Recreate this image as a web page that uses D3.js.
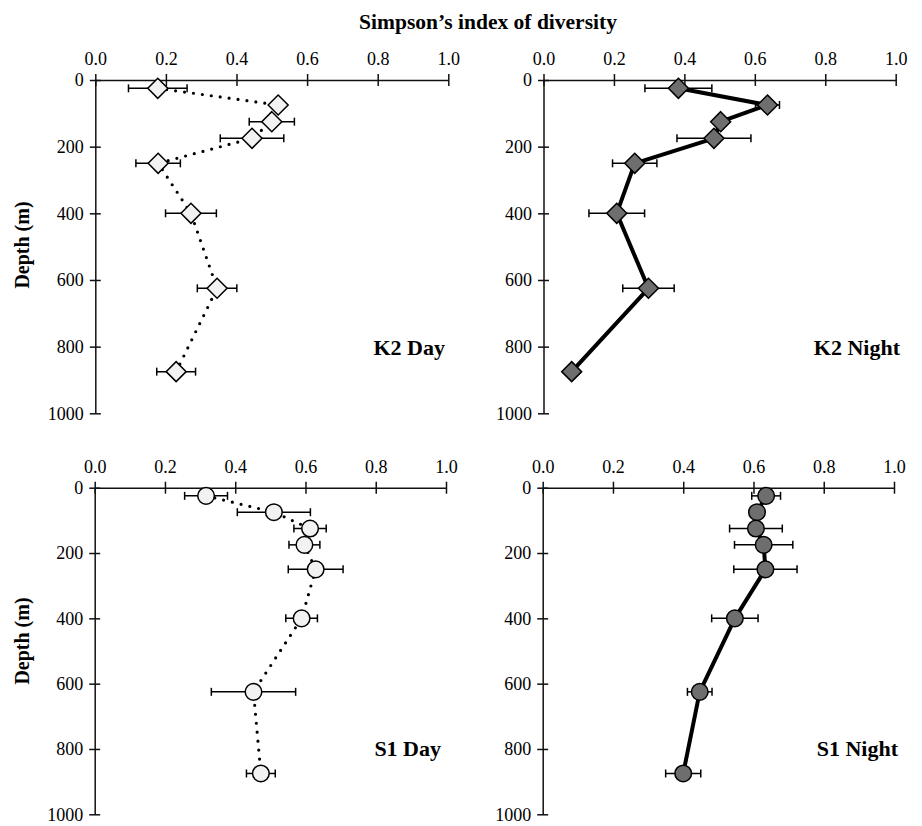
<!DOCTYPE html>
<html>
<head>
<meta charset="utf-8">
<script src="https://cdn.jsdelivr.net/npm/d3@7"></script>
<style>
  body { margin: 0; background: #fff; }
  svg { display: block; }
  svg text { font-family: "Liberation Serif", "Times New Roman", serif; }
</style>
</head>
<body>
<svg></svg>
<script>
// размеры окна
const width = 922;
const height = 826;
let svg = d3.select("svg")
  .attr("width", width)
  .attr("height", height);

// данные: глубины и индексы Симпсона (среднее и погрешность)
const depths = [25, 75, 125, 175, 250, 400, 625, 875];
const xTicks = [0, 0.2, 0.4, 0.6, 0.8, 1.0];
const yTicks = [0, 200, 400, 600, 800, 1000];

const k2DayMean = [0.177, 0.518, 0.50, 0.444, 0.178, 0.271, 0.345, 0.229];
const k2DayErr = [0.083, null, 0.064, 0.09, 0.063, 0.072, 0.056, 0.055];

const k2NightMean = [0.383, 0.636, 0.503, 0.484, 0.259, 0.208, 0.298, 0.08];
const k2NightErr = [0.095, 0.034, null, 0.105, 0.063, 0.079, 0.073, null];

const s1DayMean = [0.317, 0.51, 0.613, 0.597, 0.629, 0.589, 0.452, 0.473];
const s1DayErr = [0.061, 0.104, 0.046, 0.044, 0.078, 0.045, 0.12, 0.041];

const s1NightMean = [0.636, 0.61, 0.607, 0.629, 0.634, 0.547, 0.447, 0.40];
const s1NightErr = [0.041, null, 0.075, 0.083, 0.09, 0.066, 0.035, 0.05];

// панели: положение и стиль
const panels = [
  { name: "K2 Day", mean: k2DayMean, err: k2DayErr, x0: 95.3, x1: 448.3, y0: 80, y1: 413.3,
    shape: "diamond", fill: "#f2f2f2", dotted: true, lx: 445, ly: 355 },
  { name: "K2 Night", mean: k2NightMean, err: k2NightErr, x0: 543.5, x1: 895.7, y0: 80, y1: 413.3,
    shape: "diamond", fill: "#6e6e6e", dotted: false, lx: 900, ly: 355 },
  { name: "S1 Day", mean: s1DayMean, err: s1DayErr, x0: 94.7, x1: 446, y0: 487.7, y1: 814.3,
    shape: "circle", fill: "#f2f2f2", dotted: true, lx: 441, ly: 756 },
  { name: "S1 Night", mean: s1NightMean, err: s1NightErr, x0: 542.7, x1: 894, y0: 487.7, y1: 814.3,
    shape: "circle", fill: "#6e6e6e", dotted: false, lx: 898, ly: 756 }
];

function drawPanel(p) {
  let x = d3.scaleLinear().domain([0, 1]).range([p.x0, p.x1]);
  let y = d3.scaleLinear().domain([0, 1000]).range([p.y0, p.y1]);
  let g = svg.append("g");

  // ось X сверху
  let gx = g.append("g")
    .attr("transform", `translate(0,${p.y0})`)
    .call(d3.axisTop(x).tickValues(xTicks).tickFormat(d3.format(".1f"))
      .tickSize(6).tickSizeOuter(0).tickPadding(9));
  gx.selectAll(".tick line").attr("y1", 6);

  // ось Y слева
  let gy = g.append("g")
    .attr("transform", `translate(${p.x0},0)`)
    .call(d3.axisLeft(y).tickValues(yTicks).tickFormat(d3.format("d"))
      .tickSize(5.5).tickSizeOuter(0).tickPadding(6));
  gy.selectAll(".tick line").attr("x1", 5.5);

  [gx, gy].forEach(a => a.attr("font-family", "Liberation Serif").attr("font-size", 18));
  g.selectAll(".domain").attr("stroke", "#111").attr("stroke-width", 1.5);
  g.selectAll(".tick line").attr("stroke", "#111").attr("stroke-width", 1.5);
  g.selectAll(".tick text").attr("fill", "#000");

  let pts = depths.map((d, i) => ({ depth: d, v: p.mean[i], e: p.err[i] }));

  // линия
  const line = d3.line().x(d => x(d.v)).y(d => y(d.depth));
  let path = g.append("path")
    .attr("d", line(pts))
    .attr("fill", "none")
    .attr("stroke", "#000");
  if (p.dotted) {
    path.attr("stroke-width", 3.2)
      .attr("stroke-dasharray", "0,9")
      .attr("stroke-linecap", "round");
  } else {
    path.attr("stroke-width", 4)
      .attr("stroke-linejoin", "round");
  }

  // планки погрешностей
  let eb = g.append("g").attr("stroke", "#000").attr("stroke-width", 1.5);
  pts.filter(d => d.e != null).forEach(d => {
    let cy = y(d.depth);
    eb.append("line")
      .attr("x1", x(d.v - d.e)).attr("x2", x(d.v + d.e))
      .attr("y1", cy).attr("y2", cy);
    [d.v - d.e, d.v + d.e].forEach(v => {
      eb.append("line")
        .attr("x1", x(v)).attr("x2", x(v))
        .attr("y1", cy - 4).attr("y2", cy + 4);
    });
  });

  // маркеры
  let marks = g.append("g");
  if (p.shape === "diamond") {
    marks.selectAll("path")
      .data(pts)
      .join("path")
      .attr("d", "M0,-10L10,0L0,10L-10,0Z")
      .attr("transform", d => `translate(${x(d.v)},${y(d.depth)})`)
      .attr("fill", p.fill)
      .attr("stroke", "#000")
      .attr("stroke-width", 1.5);
  } else {
    marks.selectAll("circle")
      .data(pts)
      .join("circle")
      .attr("cx", d => x(d.v))
      .attr("cy", d => y(d.depth))
      .attr("r", 8.3)
      .attr("fill", p.fill)
      .attr("stroke", "#000")
      .attr("stroke-width", 1.5);
  }

  // подпись панели
  g.append("text")
    .attr("x", p.lx)
    .attr("y", p.ly)
    .attr("text-anchor", "end")
    .style("font-size", "22px")
    .style("font-weight", "bold")
    .text(p.name);
}

panels.forEach(drawPanel);

// общий заголовок
svg.append("text")
  .attr("x", 488)
  .attr("y", 29)
  .attr("text-anchor", "middle")
  .style("font-size", "21.5px")
  .style("font-weight", "bold")
  .text("Simpson’s index of diversity");

// подписи оси глубины
[245, 641].forEach(cy => {
  svg.append("text")
    .attr("transform", `translate(29,${cy}) rotate(-90)`)
    .attr("text-anchor", "middle")
    .style("font-size", "20px")
    .style("font-weight", "bold")
    .text("Depth (m)");
});
</script>
</body>
</html>
